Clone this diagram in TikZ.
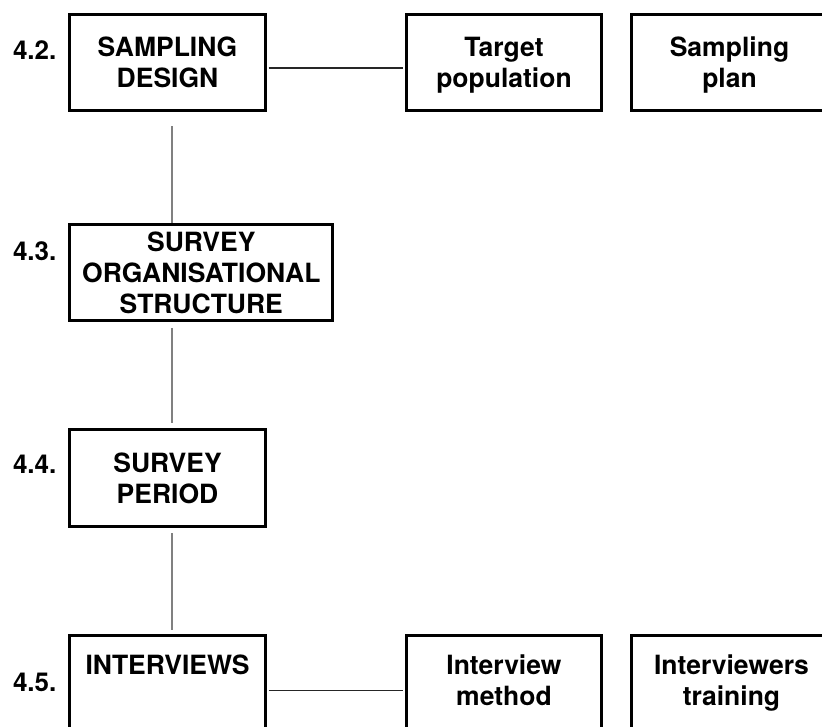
\documentclass[tikz,border=0pt]{standalone}
\usepackage{fontspec}
\setmainfont{TeX Gyre Heros}
% strut that centres the cap height of each line inside a 31pt line
\newcommand{\capstrut}{\rule[-6pt]{0pt}{31pt}}
% extra depth under the last line, lifts the text block a little
\newcommand{\lowpad}{\rule[-13pt]{0pt}{13pt}}
\begin{document}
\begin{tikzpicture}[x=1pt,y=-1pt,
  box/.style={draw=black, line width=3pt, rectangle, inner sep=0pt,
    align=center, font=\fontsize{26.5}{31}\selectfont\bfseries,
    minimum width=196pt, minimum height=95.5pt},
  lab/.style={inner sep=0pt, anchor=base west,
    font=\fontsize{26}{31}\selectfont\bfseries},
  hline/.style={draw=black!85, line width=1.2pt},
  vline/.style={draw=black!50, line width=1.4pt}]
\useasboundingbox (0,0) rectangle (822,726);
\clip (0,0) rectangle (822,726);

% section numbers
\node[lab] (l42) at (12.8,59.5) {4.2.};
\node[lab] (l43) at (12.8,260.2) {4.3.};
\node[lab] (l44) at (12.8,473.5) {4.4.};
\node[lab] (l45) at (12.8,691.5) {4.5.};

% main steps
\node[box] (s42) at (167.5,62.5) {SAMPLING\capstrut\\DESIGN\capstrut};
\node[box, minimum width=263pt] (s43) at (201.3,272.5)
  {SURVEY\capstrut\\ORGANISATIONAL\capstrut\\STRUCTURE\capstrut};
\node[box, minimum height=97pt] (s44) at (167.5,478.3) {SURVEY\capstrut\\PERIOD\capstrut};
\node[box, minimum height=96pt] (s45) at (167.5,683.8) {INTERVIEWS\capstrut\\\capstrut\lowpad};

% detail boxes
\node[box, minimum width=195.5pt] (tp) at (504,62.5) {Target\capstrut\\population\capstrut};
\node[box] (sp) at (729.5,62.5) {Sampling\capstrut\\plan\capstrut};
\node[box, minimum width=195.5pt, minimum height=96pt] (im) at (504,683.8)
  {Interview\capstrut\\method\capstrut\lowpad};
\node[box, minimum width=200pt, minimum height=96pt] (it) at (731.5,683.8)
  {Interviewers\capstrut\\training\capstrut\lowpad};

% connector guides
\coordinate (spine) at (172,0);
\coordinate (row1) at (0,68);
\coordinate (row5) at (0,690.7);

% horizontal links
\draw[hline] ([xshift=1.5pt]s42.east |- row1) -- ([xshift=-1.5pt]tp.west |- row1);
\draw[hline] ([xshift=1.5pt]s45.east |- row5) -- ([xshift=-1.5pt]im.west |- row5);

% vertical links
\draw[vline] ([yshift=-14.5pt]s42.south -| spine) -- (s43.north -| spine);
\draw[vline] ([yshift=-6pt]s43.south -| spine) -- ([yshift=5pt]s44.north -| spine);
\draw[vline] ([yshift=-5pt]s44.south -| spine) -- ([yshift=4pt]s45.north -| spine);
\end{tikzpicture}
\end{document}
